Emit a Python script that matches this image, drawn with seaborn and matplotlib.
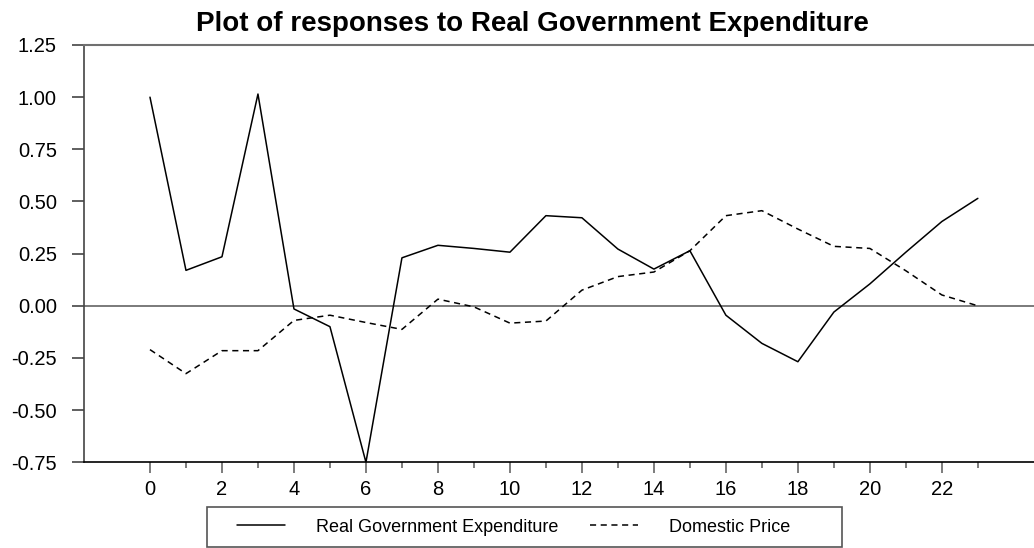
import pandas as pd
import numpy as np
import matplotlib
matplotlib.use("Agg")
import matplotlib.pyplot as plt
from matplotlib.patches import Rectangle
import seaborn as sns

# Impulse response values
periods = list(range(24))
real_gov_exp = [1.00, 0.17, 0.235, 1.015, -0.015, -0.10, -0.75, 0.23, 0.29, 0.275,
                0.257, 0.432, 0.422, 0.272, 0.176, 0.264, -0.045, -0.18, -0.268, -0.03,
                0.105, 0.257, 0.404, 0.515]
domestic_price = [-0.21, -0.325, -0.215, -0.215, -0.07, -0.045, -0.08, -0.113, 0.032, -0.005,
                  -0.083, -0.073, 0.075, 0.14, 0.162, 0.264, 0.432, 0.456, 0.368, 0.285,
                  0.275, 0.168, 0.052, 0.0]
series_names = ['Real Government Expenditure', 'Domestic Price']
y_ticks = [-0.75, -0.50, -0.25, 0.00, 0.25, 0.50, 0.75, 1.00, 1.25]

sns.set_style('white')
plt.rcParams['font.family'] = ['Liberation Sans', 'DejaVu Sans']
plt.rcParams['text.color'] = 'black'
plt.rcParams['xtick.labelcolor'] = 'black'
plt.rcParams['ytick.labelcolor'] = 'black'

df = pd.DataFrame({
    'Period': periods * 2,
    'Response': real_gov_exp + domestic_price,
    'Series': [series_names[0]] * len(periods) + [series_names[1]] * len(periods),
})

W, H = 1034, 548
fig = plt.figure(figsize=(W / 100, H / 100), dpi=100)
ax = fig.add_axes([84 / W, 1 - 462.3 / H, 950 / W, (462.3 - 45) / H])

sns.lineplot(data=df, x='Period', y='Response', hue='Series', style='Series',
             palette=['black', 'black'], dashes={series_names[0]: '', series_names[1]: (4, 3)},
             linewidth=1.1, legend=False, ax=ax)

ax.axhline(0, color='#707070', linewidth=1.3, zorder=0)

ax.set_xlim(-1.833, 24.56)
ax.set_ylim(-0.75, 1.25)
ax.set_yticks(y_ticks)
ax.set_yticklabels([f'{v:.2f}' for v in y_ticks])
ax.set_xticks(range(0, 24, 2))
ax.set_xticks(range(1, 24, 2), minor=True)
ax.tick_params(axis='y', direction='out', length=8.6, width=1.2, color='#444444',
               labelsize=14.5, pad=11, left=True)
ax.tick_params(axis='x', which='major', direction='out', length=8, width=1.2,
               color='#666666', labelsize=14.5, pad=5, bottom=True)
ax.tick_params(axis='x', which='minor', direction='out', length=4.5, width=1.2,
               color='#666666', bottom=True)
ax.set_xlabel('')
ax.set_ylabel('')

ax.spines['right'].set_visible(False)
ax.spines['top'].set_color('#707070')
ax.spines['top'].set_linewidth(1.5)
ax.spines['left'].set_color('#444444')
ax.spines['left'].set_linewidth(1.2)
ax.spines['bottom'].set_color('black')
ax.spines['bottom'].set_linewidth(1.2)

fig.text(532 / W, 1 - 31 / H, 'Plot of responses to Real Government Expenditure',
         fontsize=20, fontweight='bold', ha='center', va='baseline')

# legend below the plot, box drawn separately
fig.patches.append(Rectangle((207 / W, 1.5 / H), 635 / W, 40 / H, transform=fig.transFigure,
                             fill=False, edgecolor='#555555', linewidth=1.2))
handles = [plt.Line2D([], [], color='black', linewidth=1.1),
           plt.Line2D([], [], color='black', linewidth=1.1, dashes=(4, 3))]
fig.legend(handles, series_names, loc='center left', bbox_to_anchor=(237 / W, 1 - 527 / H),
           ncol=2, fontsize=13, frameon=False, handlelength=2.66, handletextpad=1.72,
           columnspacing=1.72, borderaxespad=0, borderpad=0)

fig.savefig('out.png', dpi=100)
plt.close(fig)
